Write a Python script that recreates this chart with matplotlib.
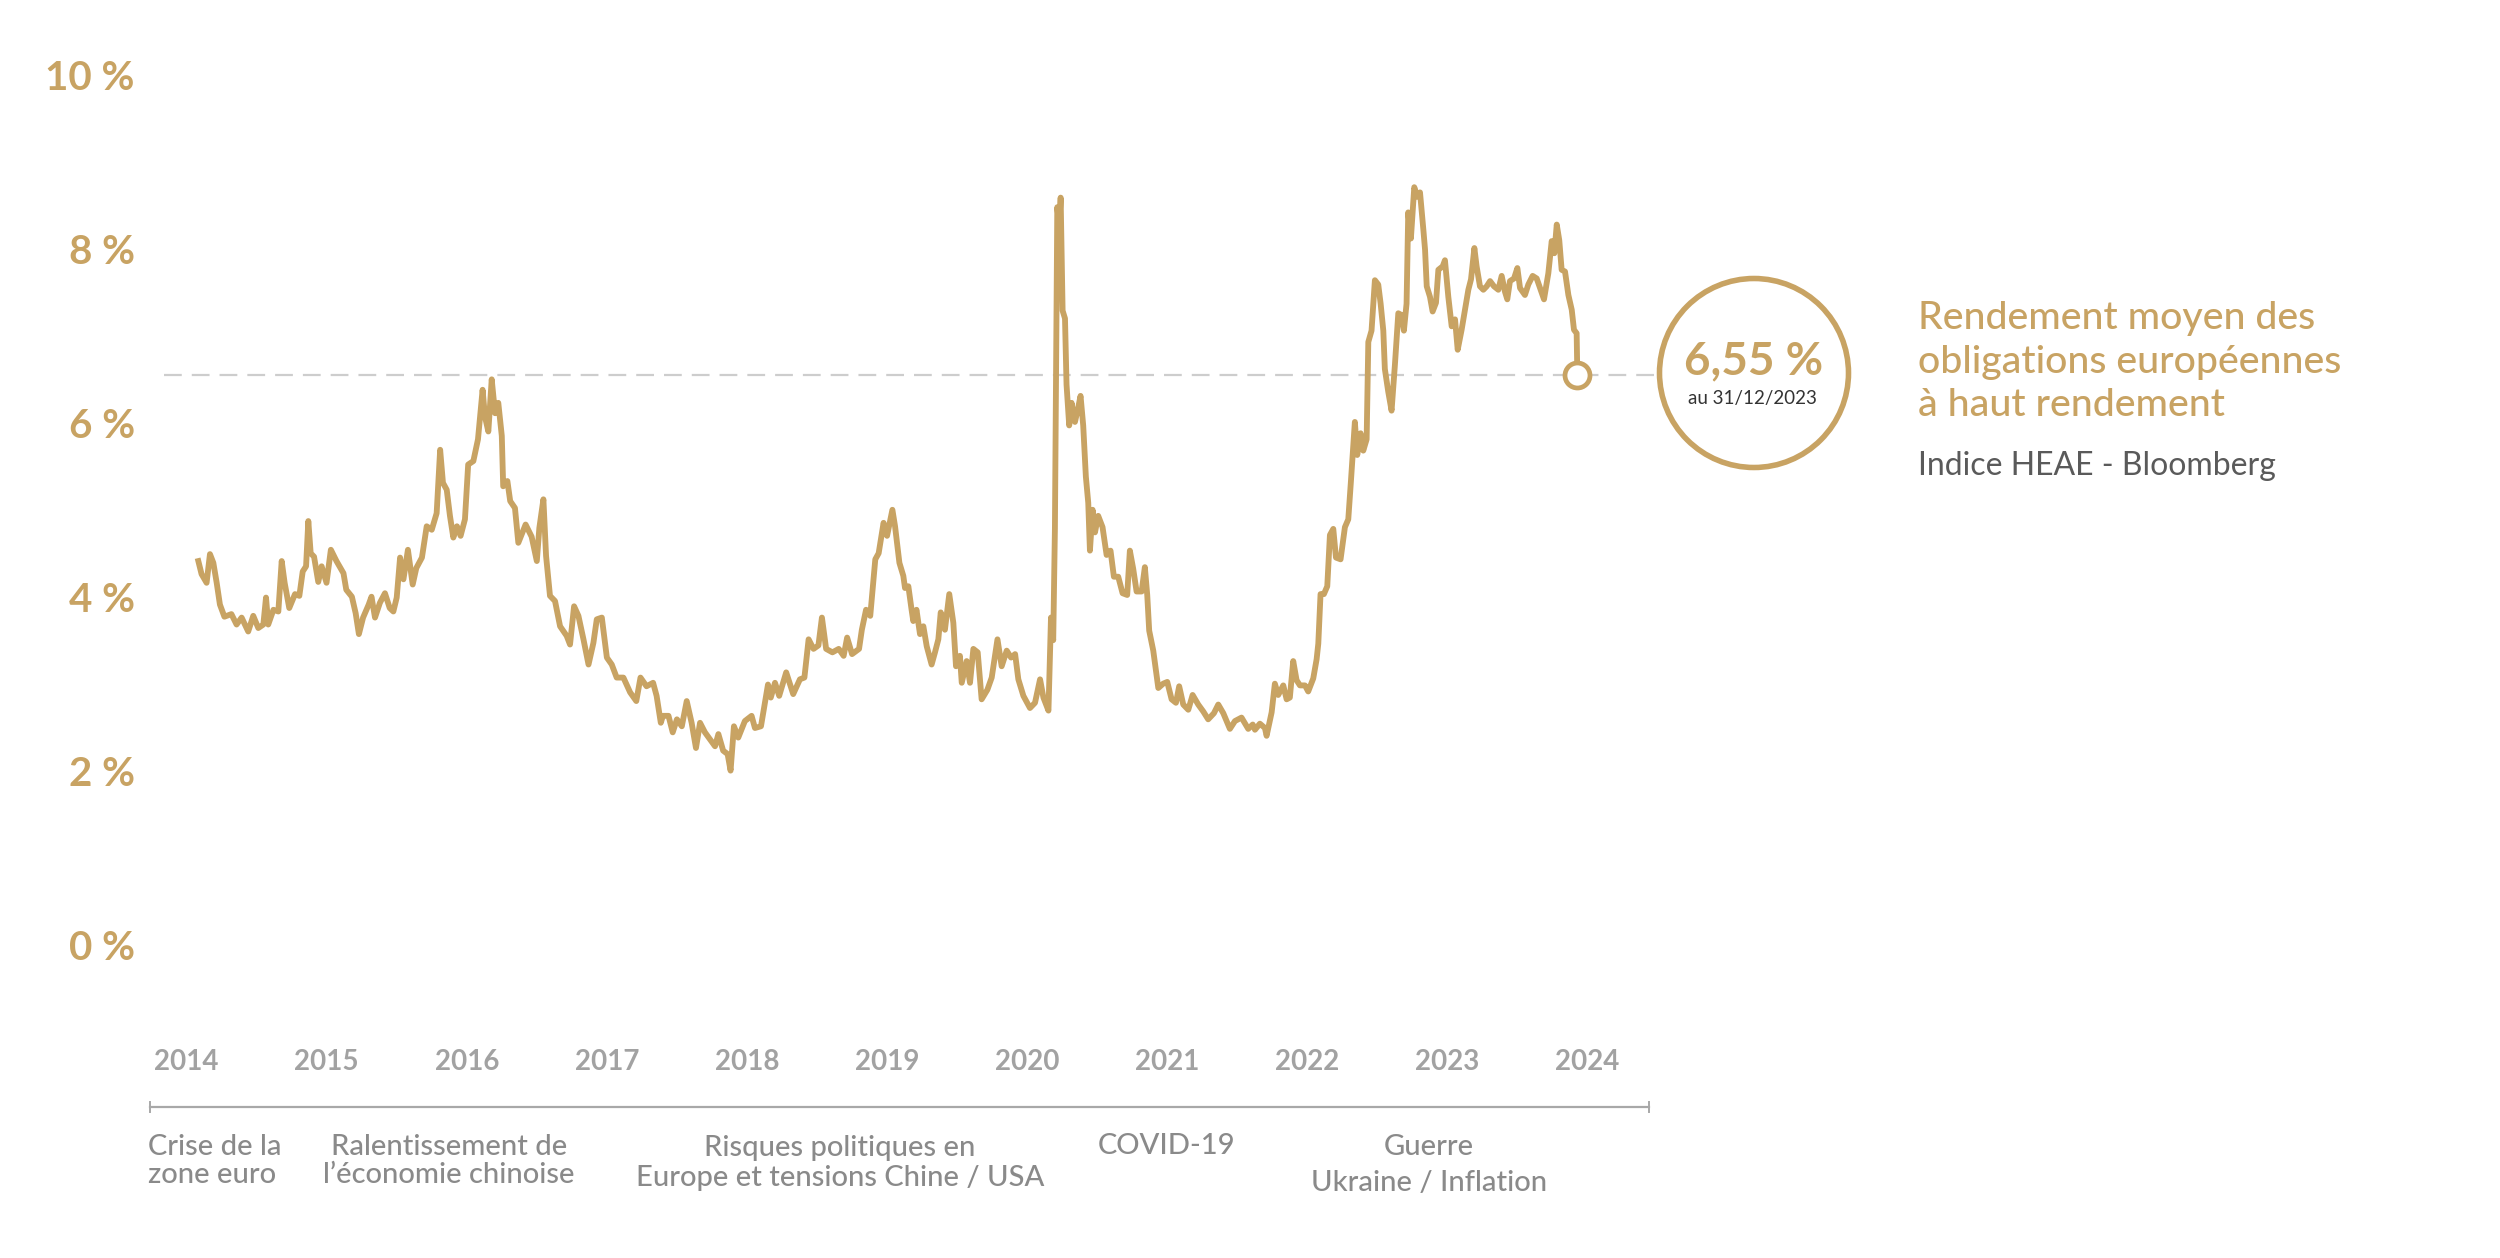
import matplotlib
matplotlib.use("Agg")
import matplotlib.pyplot as plt
from matplotlib.patches import Circle

plt.rcParams['font.family'] = ['Lato', 'DejaVu Sans']

# rendement moyen HEAE (annee decimale, %)
dates = [
    2014.084, 2014.107, 2014.143, 2014.167, 2014.191, 2014.215, 2014.238, 2014.27, 2014.32, 2014.357,
    2014.393, 2014.44, 2014.476, 2014.512, 2014.548, 2014.567, 2014.583, 2014.62, 2014.655, 2014.679,
    2014.70, 2014.733, 2014.774, 2014.805, 2014.829, 2014.853, 2014.869, 2014.886, 2014.91, 2014.94,
    2014.964, 2014.999, 2015.03, 2015.07, 2015.12, 2015.14, 2015.18, 2015.207, 2015.23, 2015.26,
    2015.30, 2015.32, 2015.345, 2015.38, 2015.416, 2015.45, 2015.476, 2015.50, 2015.524, 2015.548,
    2015.58, 2015.614, 2015.64, 2015.68, 2015.714, 2015.75, 2015.785, 2015.81, 2015.83, 2015.857,
    2015.88, 2015.904, 2015.93, 2015.956, 2015.987, 2016.01, 2016.047, 2016.08, 2016.113, 2016.13,
    2016.154, 2016.178, 2016.202, 2016.225, 2016.25, 2016.26, 2016.29, 2016.31, 2016.344, 2016.368,
    2016.42, 2016.463, 2016.5, 2016.518, 2016.547, 2016.566, 2016.594, 2016.63, 2016.666, 2016.713,
    2016.737, 2016.766, 2016.797, 2016.833, 2016.869, 2016.904, 2016.928, 2016.964, 2017.0, 2017.035,
    2017.07, 2017.118, 2017.166, 2017.21, 2017.24, 2017.283, 2017.33, 2017.355, 2017.385, 2017.40,
    2017.44, 2017.47, 2017.50, 2017.535, 2017.57, 2017.605, 2017.636, 2017.665, 2017.70, 2017.736,
    2017.772, 2017.796, 2017.83, 2017.862, 2017.883, 2017.907, 2017.938, 2017.985, 2018.033, 2018.057,
    2018.10, 2018.15, 2018.17, 2018.20, 2018.23, 2018.28, 2018.33, 2018.378, 2018.41, 2018.44,
    2018.475, 2018.51, 2018.535, 2018.565, 2018.61, 2018.655, 2018.69, 2018.715, 2018.75, 2018.80,
    2018.82, 2018.85, 2018.88, 2018.916, 2018.94, 2018.975, 2019.0, 2019.038, 2019.057, 2019.088,
    2019.116, 2019.128, 2019.152, 2019.175, 2019.187, 2019.21, 2019.235, 2019.259, 2019.283, 2019.318,
    2019.342, 2019.366, 2019.383, 2019.413, 2019.444, 2019.473, 2019.492, 2019.52, 2019.533, 2019.568,
    2019.592, 2019.616, 2019.647, 2019.675, 2019.716, 2019.747, 2019.788, 2019.818, 2019.854, 2019.885,
    2019.914, 2019.937, 2019.973, 2020.02, 2020.056, 2020.092, 2020.116, 2020.152, 2020.170, 2020.186,
    2020.198, 2020.215, 2020.229, 2020.239, 2020.253, 2020.27, 2020.281, 2020.30, 2020.317, 2020.341,
    2020.365, 2020.381, 2020.40, 2020.419, 2020.436, 2020.448, 2020.467, 2020.484, 2020.507, 2020.538,
    2020.567, 2020.595, 2020.619, 2020.65, 2020.681, 2020.714, 2020.733, 2020.757, 2020.781, 2020.817,
    2020.84, 2020.857, 2020.871, 2020.90, 2020.936, 2020.971, 2021.0, 2021.031, 2021.062, 2021.085,
    2021.114, 2021.15, 2021.181, 2021.221, 2021.257, 2021.292, 2021.333, 2021.364, 2021.4, 2021.447,
    2021.483, 2021.53, 2021.578, 2021.61, 2021.626, 2021.661, 2021.697, 2021.709, 2021.745, 2021.768,
    2021.792, 2021.828, 2021.852, 2021.875, 2021.899, 2021.923, 2021.947, 2021.983, 2022.006, 2022.042,
    2022.066, 2022.078, 2022.094, 2022.118, 2022.142, 2022.161, 2022.185, 2022.204, 2022.237, 2022.268,
    2022.292, 2022.311, 2022.339, 2022.356, 2022.38, 2022.399, 2022.423, 2022.435, 2022.458, 2022.482,
    2022.506, 2022.523, 2022.542, 2022.553, 2022.577, 2022.601, 2022.625, 2022.649, 2022.672, 2022.689,
    2022.708, 2022.72, 2022.739, 2022.763, 2022.784, 2022.804, 2022.828, 2022.84, 2022.852, 2022.875,
    2022.894, 2022.918, 2022.935, 2022.966, 2022.982, 2023.006, 2023.03, 2023.054, 2023.073, 2023.101,
    2023.125, 2023.149, 2023.168, 2023.192, 2023.208, 2023.232, 2023.256, 2023.28, 2023.304, 2023.332,
    2023.363, 2023.387, 2023.41, 2023.427, 2023.446, 2023.475, 2023.499, 2023.518, 2023.553, 2023.577,
    2023.608, 2023.637, 2023.665, 2023.689, 2023.72, 2023.744, 2023.763, 2023.78, 2023.798, 2023.815,
    2023.839, 2023.863, 2023.887, 2023.903, 2023.922, 2023.927,
]
yields = [
    4.41, 4.26, 4.16, 4.49, 4.39, 4.16, 3.91, 3.77, 3.80, 3.68,
    3.76, 3.60, 3.78, 3.64, 3.68, 3.99, 3.68, 3.85, 3.83, 4.41,
    4.16, 3.87, 4.03, 4.01, 4.29, 4.35, 4.87, 4.50, 4.46, 4.17,
    4.35, 4.16, 4.54, 4.41, 4.27, 4.08, 4.00, 3.81, 3.57, 3.76,
    3.91, 4.00, 3.76, 3.93, 4.04, 3.87, 3.83, 3.99, 4.45, 4.20,
    4.54, 4.14, 4.33, 4.45, 4.81, 4.77, 4.96, 5.69, 5.31, 5.23,
    4.93, 4.68, 4.81, 4.70, 4.89, 5.52, 5.56, 5.81, 6.38, 6.07,
    5.90, 6.50, 6.11, 6.23, 5.85, 5.27, 5.33, 5.10, 5.02, 4.62,
    4.83, 4.69, 4.41, 4.79, 5.12, 4.47, 4.01, 3.95, 3.66, 3.55,
    3.45, 3.89, 3.78, 3.51, 3.22, 3.47, 3.74, 3.76, 3.30, 3.22,
    3.07, 3.07, 2.90, 2.80, 3.07, 2.97, 3.01, 2.86, 2.55, 2.63,
    2.63, 2.44, 2.59, 2.51, 2.80, 2.55, 2.26, 2.55, 2.44, 2.36,
    2.28, 2.42, 2.23, 2.19, 2.00, 2.51, 2.38, 2.57, 2.63, 2.49,
    2.51, 2.99, 2.84, 3.01, 2.86, 3.13, 2.88, 3.05, 3.07, 3.51,
    3.40, 3.44, 3.76, 3.40, 3.36, 3.40, 3.32, 3.53, 3.34, 3.40,
    3.62, 3.85, 3.78, 4.43, 4.50, 4.85, 4.70, 5.00, 4.81, 4.39,
    4.24, 4.10, 4.12, 3.85, 3.72, 3.85, 3.57, 3.66, 3.43, 3.22,
    3.36, 3.51, 3.82, 3.62, 4.03, 3.70, 3.20, 3.32, 3.01, 3.26,
    3.01, 3.40, 3.36, 2.82, 2.93, 3.07, 3.51, 3.20, 3.38, 3.30,
    3.34, 3.05, 2.86, 2.72, 2.78, 3.05, 2.84, 2.69, 3.76, 3.50,
    4.78, 8.48, 8.27, 8.59, 7.29, 7.20, 6.44, 5.97, 6.23, 6.01,
    6.18, 6.31, 5.97, 5.38, 5.08, 4.53, 5.00, 4.74, 4.93, 4.80,
    4.48, 4.53, 4.23, 4.23, 4.04, 4.02, 4.53, 4.32, 4.06, 4.06,
    4.34, 4.02, 3.61, 3.38, 2.95, 3.00, 3.02, 2.82, 2.78, 2.97,
    2.76, 2.70, 2.87, 2.76, 2.68, 2.59, 2.66, 2.76, 2.66, 2.48,
    2.57, 2.61, 2.48, 2.53, 2.47, 2.54, 2.49, 2.40, 2.67, 3.00,
    2.87, 2.98, 2.82, 2.84, 3.26, 3.04, 2.98, 2.98, 2.91, 3.06,
    3.28, 3.46, 4.03, 4.03, 4.12, 4.71, 4.78, 4.45, 4.43, 4.80,
    4.89, 5.33, 6.01, 5.63, 5.88, 5.68, 5.81, 6.93, 7.06, 7.64,
    7.59, 7.37, 7.06, 6.62, 6.36, 6.14, 6.67, 7.26, 7.24, 7.06,
    7.37, 8.42, 8.12, 8.71, 8.60, 8.65, 8.22, 7.99, 7.57, 7.45,
    7.28, 7.38, 7.76, 7.80, 7.87, 7.45, 7.11, 7.19, 6.84, 7.07,
    7.30, 7.53, 7.65, 8.01, 7.80, 7.57, 7.53, 7.57, 7.63, 7.57,
    7.53, 7.69, 7.51, 7.42, 7.63, 7.66, 7.78, 7.55, 7.47, 7.59,
    7.69, 7.66, 7.53, 7.42, 7.72, 8.09, 7.95, 8.28, 8.10, 7.76,
    7.74, 7.47, 7.30, 7.07, 7.03, 6.55,
]

years = list(range(2014, 2025))
y_ticks = [0, 2, 4, 6, 8, 10]
y_labels = ['0 %', '2 %', '4 %', '6 %', '8 %', '10 %']

last_value = '6,55 %'
last_date = 'au 31/12/2023'

events = ['Crise de la\nzone euro',
          'Ralentissement de\nl\u2019économie chinoise',
          'Risques politiques en\nEurope et tensions Chine / USA',
          'COVID-19',
          'Guerre\nUkraine / Inflation']

gold = '#C8A363'
text_grey = '#8A8A8A'
W, H = 2500, 1258


def fx(x):
    return x / W


def fy(y):
    return 1 - y / H


fig = plt.figure(figsize=(25, 12.58), dpi=100)
ax = fig.add_axes([0.06, 0.2051, 0.604, 0.756])
ax.set_xlim(2013.739, 2024.517)
ax.set_ylim(-0.638, 10.3)
for s in ax.spines.values():
    s.set_visible(False)

# ligne de reference au dernier niveau
ax.plot([2013.84, 2024.51], [yields[-1], yields[-1]], color='#CDCDCD', lw=1.6,
        ls=(0, (8, 4.5)), clip_on=False, zorder=1)
ax.plot(dates, yields, color=gold, lw=4.2, solid_joinstyle='round', zorder=3)
ax.plot(dates[-1], yields[-1], 'o', ms=18, mfc='white', mec=gold, mew=3.4, zorder=4)

ax.set_yticks(y_ticks)
ax.set_yticklabels(y_labels, color=gold, fontsize=29, fontweight='bold')
ax.set_xticks(years)
ax.set_xticklabels([str(y) for y in years], color='#A2A2A2', fontsize=20, fontweight='bold')
ax.tick_params(axis='y', length=0, pad=11)
ax.tick_params(axis='x', length=0, pad=35)

# frise des evenements
yb = -1.867
x0, x1 = 2013.739, 2024.44
ax.plot([x0, x1], [yb, yb], color='#A8A8A8', lw=1.6, clip_on=False)
for xe in [x0, x1]:
    ax.plot([xe, xe], [yb - 0.06, yb + 0.06], color='#A8A8A8', lw=1.4, clip_on=False)

ev_style = dict(fontsize=21, color=text_grey, fontweight='medium')
fig.text(fx(148), fy(1161), events[0], ha='left', va='center', linespacing=1.1, **ev_style)
fig.text(fx(449), fy(1161), events[1], ha='center', va='center', linespacing=1.1, **ev_style)
fig.text(fx(840), fy(1163), events[2], ha='center', va='center', linespacing=1.15, **ev_style)
fig.text(fx(1167), fy(1146), events[3], ha='center', va='center', **ev_style)
fig.text(fx(1429), fy(1165), events[4], ha='center', va='center', linespacing=1.45, **ev_style)

# cercle de la derniere valeur
fig.add_artist(Circle((17.54, (H - 373) / 100), 0.945, transform=fig.dpi_scale_trans,
                      fill=False, ec=gold, lw=4))
fig.text(fx(1754), fy(374), last_value, ha='center', va='baseline', fontsize=33,
         fontweight='bold', color=gold)
fig.text(fx(1752), fy(404), last_date, ha='center', va='baseline', fontsize=13.5,
         color='#333333')

fig.text(fx(1918), fy(362), 'Rendement moyen des\nobligations européennes\nà haut rendement',
         ha='left', va='center', fontsize=28.3, color=gold, fontweight='medium',
         linespacing=1.3)
fig.text(fx(1918), fy(466), 'Indice HEAE - Bloomberg', ha='left', va='center',
         fontsize=23, color='#5A5A5A', fontweight='normal')

fig.savefig('out.png', dpi=100, facecolor='white')
